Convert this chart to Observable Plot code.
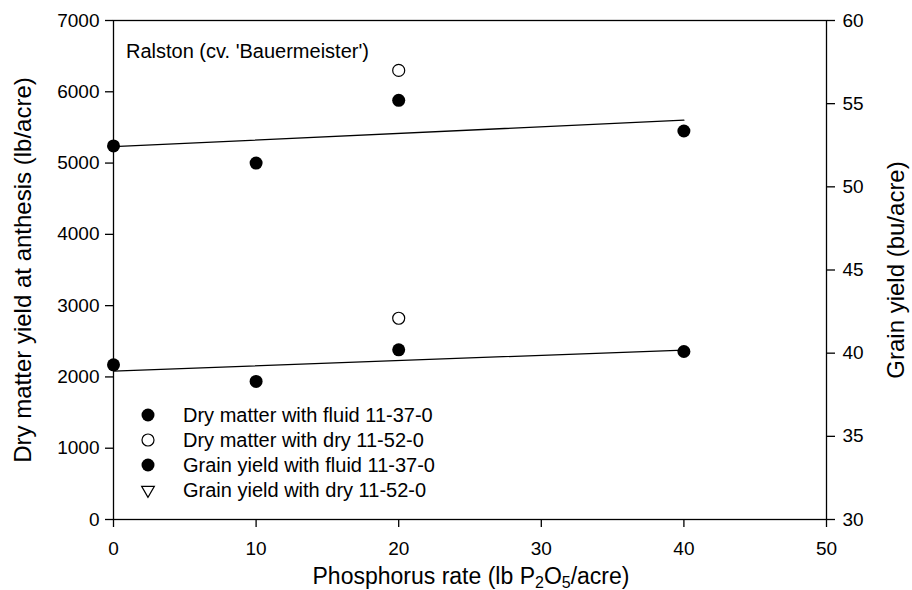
<!DOCTYPE html>
<html>
<head>
<meta charset="utf-8">
<script src="https://cdn.jsdelivr.net/npm/d3@7"></script>
<script src="https://cdn.jsdelivr.net/npm/@observablehq/plot@0.6"></script>
<style>
  html, body { margin: 0; padding: 0; background: white; }
  #chart svg { display: block; }
</style>
</head>
<body>
<div id="chart"></div>
<script>
// ---- data ----
const rates = [0, 10, 20, 40];
const dryMatterFluid = [5240, 5000, 5880, 5450];     // lb/acre, left axis
const dryMatterDryRates = [20];
const dryMatterDry = [6300];                          // lb/acre
const grainFluid = [39.3, 38.3, 40.2, 40.1];          // bu/acre, right axis
const grainDryRates = [20];
const grainDry = [42.1];                              // bu/acre (drawn as open circle in reference)

const xTicks = [0, 10, 20, 30, 40, 50];
const leftTicks = [0, 1000, 2000, 3000, 4000, 5000, 6000, 7000];
const rightTicks = [30, 35, 40, 45, 50, 55, 60];

const legendLabels = [
  "Dry matter with fluid 11-37-0",
  "Dry matter with dry 11-52-0",
  "Grain yield with fluid 11-37-0",
  "Grain yield with dry 11-52-0"
];
const legendSymbols = ["filled", "open", "filled", "triangle"];

// right axis (30–60) mapped onto left axis domain (0–7000)
const leftMax = 7000, rMin = 30, rMax = 60;
const toLeft = g => (g - rMin) / (rMax - rMin) * leftMax;
const toRight = v => rMin + v / leftMax * (rMax - rMin);

const dmFluid = rates.map((x, i) => ({x, y: dryMatterFluid[i]}));
const dmDry = dryMatterDryRates.map((x, i) => ({x, y: dryMatterDry[i]}));
const gFluid = rates.map((x, i) => ({x, y: toLeft(grainFluid[i])}));
const gDry = grainDryRates.map((x, i) => ({x, y: toLeft(grainDry[i])}));

const W = 912, H = 590;
const mL = 113, mR = 86, mT = 20, mB = 71;
const FONT = "'Liberation Sans', Arial, Helvetica, sans-serif";
const TICK_FS = 19;

const plot = Plot.plot({
  width: W, height: H,
  marginLeft: mL, marginRight: mR, marginTop: mT, marginBottom: mB,
  style: {fontFamily: FONT, fontSize: TICK_FS + "px", background: "white", color: "black", overflow: "visible"},
  x: {domain: [0, 50]},
  y: {domain: [0, leftMax]},
  marks: [
    Plot.frame({stroke: "black", strokeWidth: 1.3}),
    Plot.axisX({ticks: xTicks, tickFormat: d => String(d), tickSize: 8, tickPadding: 14, label: null,
                strokeWidth: 1.3, fontSize: TICK_FS}),
    Plot.axisY({ticks: leftTicks, tickFormat: d => String(d), tickSize: 8, tickPadding: 6, label: null,
                strokeWidth: 1.3, fontSize: TICK_FS}),
    Plot.axisY({anchor: "right", ticks: rightTicks.map(toLeft), tickFormat: v => String(Math.round(toRight(v))),
                tickSize: 8, tickPadding: 8, label: null, strokeWidth: 1.3, fontSize: TICK_FS}),
    Plot.linearRegressionY(dmFluid, {x: "x", y: "y", ci: 0, stroke: "black", strokeWidth: 1.3}),
    Plot.linearRegressionY(gFluid, {x: "x", y: "y", ci: 0, stroke: "black", strokeWidth: 1.3}),
    Plot.dot(dmFluid, {x: "x", y: "y", r: 6.5, fill: "black", stroke: "none"}),
    Plot.dot(gFluid, {x: "x", y: "y", r: 6.5, fill: "black", stroke: "none"}),
    Plot.dot(dmDry, {x: "x", y: "y", r: 6, fill: "white", stroke: "black", strokeWidth: 1.2}),
    Plot.dot(gDry, {x: "x", y: "y", r: 6, fill: "white", stroke: "black", strokeWidth: 1.2})
  ]
});
document.getElementById("chart").appendChild(plot);

const svg = d3.select(plot);

// axis titles
svg.append("text")
  .attr("x", 471).attr("y", 584)
  .attr("text-anchor", "middle")
  .style("font-family", FONT).style("font-size", "23px")
  .call(t => {
    t.append("tspan").text("Phosphorus rate (lb P");
    t.append("tspan").attr("dy", 4).style("font-size", "16px").text("2");
    t.append("tspan").attr("dy", -4).text("O");
    t.append("tspan").attr("dy", 4).style("font-size", "16px").text("5");
    t.append("tspan").attr("dy", -4).text("/acre)");
  });

svg.append("text")
  .attr("transform", "translate(31,270) rotate(-90)")
  .attr("text-anchor", "middle")
  .style("font-family", FONT).style("font-size", "24px")
  .text("Dry matter yield at anthesis (lb/acre)");

svg.append("text")
  .attr("transform", "translate(904,270) rotate(-90)")
  .attr("text-anchor", "middle")
  .style("font-family", FONT).style("font-size", "24px")
  .text("Grain yield (bu/acre)");

// site annotation
svg.append("text")
  .attr("x", 126).attr("y", 58)
  .attr("text-anchor", "start")
  .style("font-family", FONT).style("font-size", "20px")
  .text("Ralston (cv. 'Bauermeister')");

// legend
const lg = svg.append("g");
legendLabels.forEach((lab, i) => {
  const cy = 415 + i * 25, cx = 148;
  if (legendSymbols[i] === "filled") {
    lg.append("circle").attr("cx", cx).attr("cy", cy).attr("r", 6.5).attr("fill", "black");
  } else if (legendSymbols[i] === "open") {
    lg.append("circle").attr("cx", cx).attr("cy", cy).attr("r", 6).attr("fill", "white").attr("stroke", "black").attr("stroke-width", 1.2);
  } else {
    lg.append("path").attr("d", d3.symbol(d3.symbolTriangle, 70)()).attr("transform", `translate(${cx},${cy}) rotate(180)`)
      .attr("fill", "white").attr("stroke", "black").attr("stroke-width", 1.2);
  }
  lg.append("text").attr("x", 183).attr("y", cy).attr("dy", "0.35em")
    .attr("text-anchor", "start")
    .style("font-family", FONT).style("font-size", "20px").text(lab);
});
</script>
</body>
</html>
